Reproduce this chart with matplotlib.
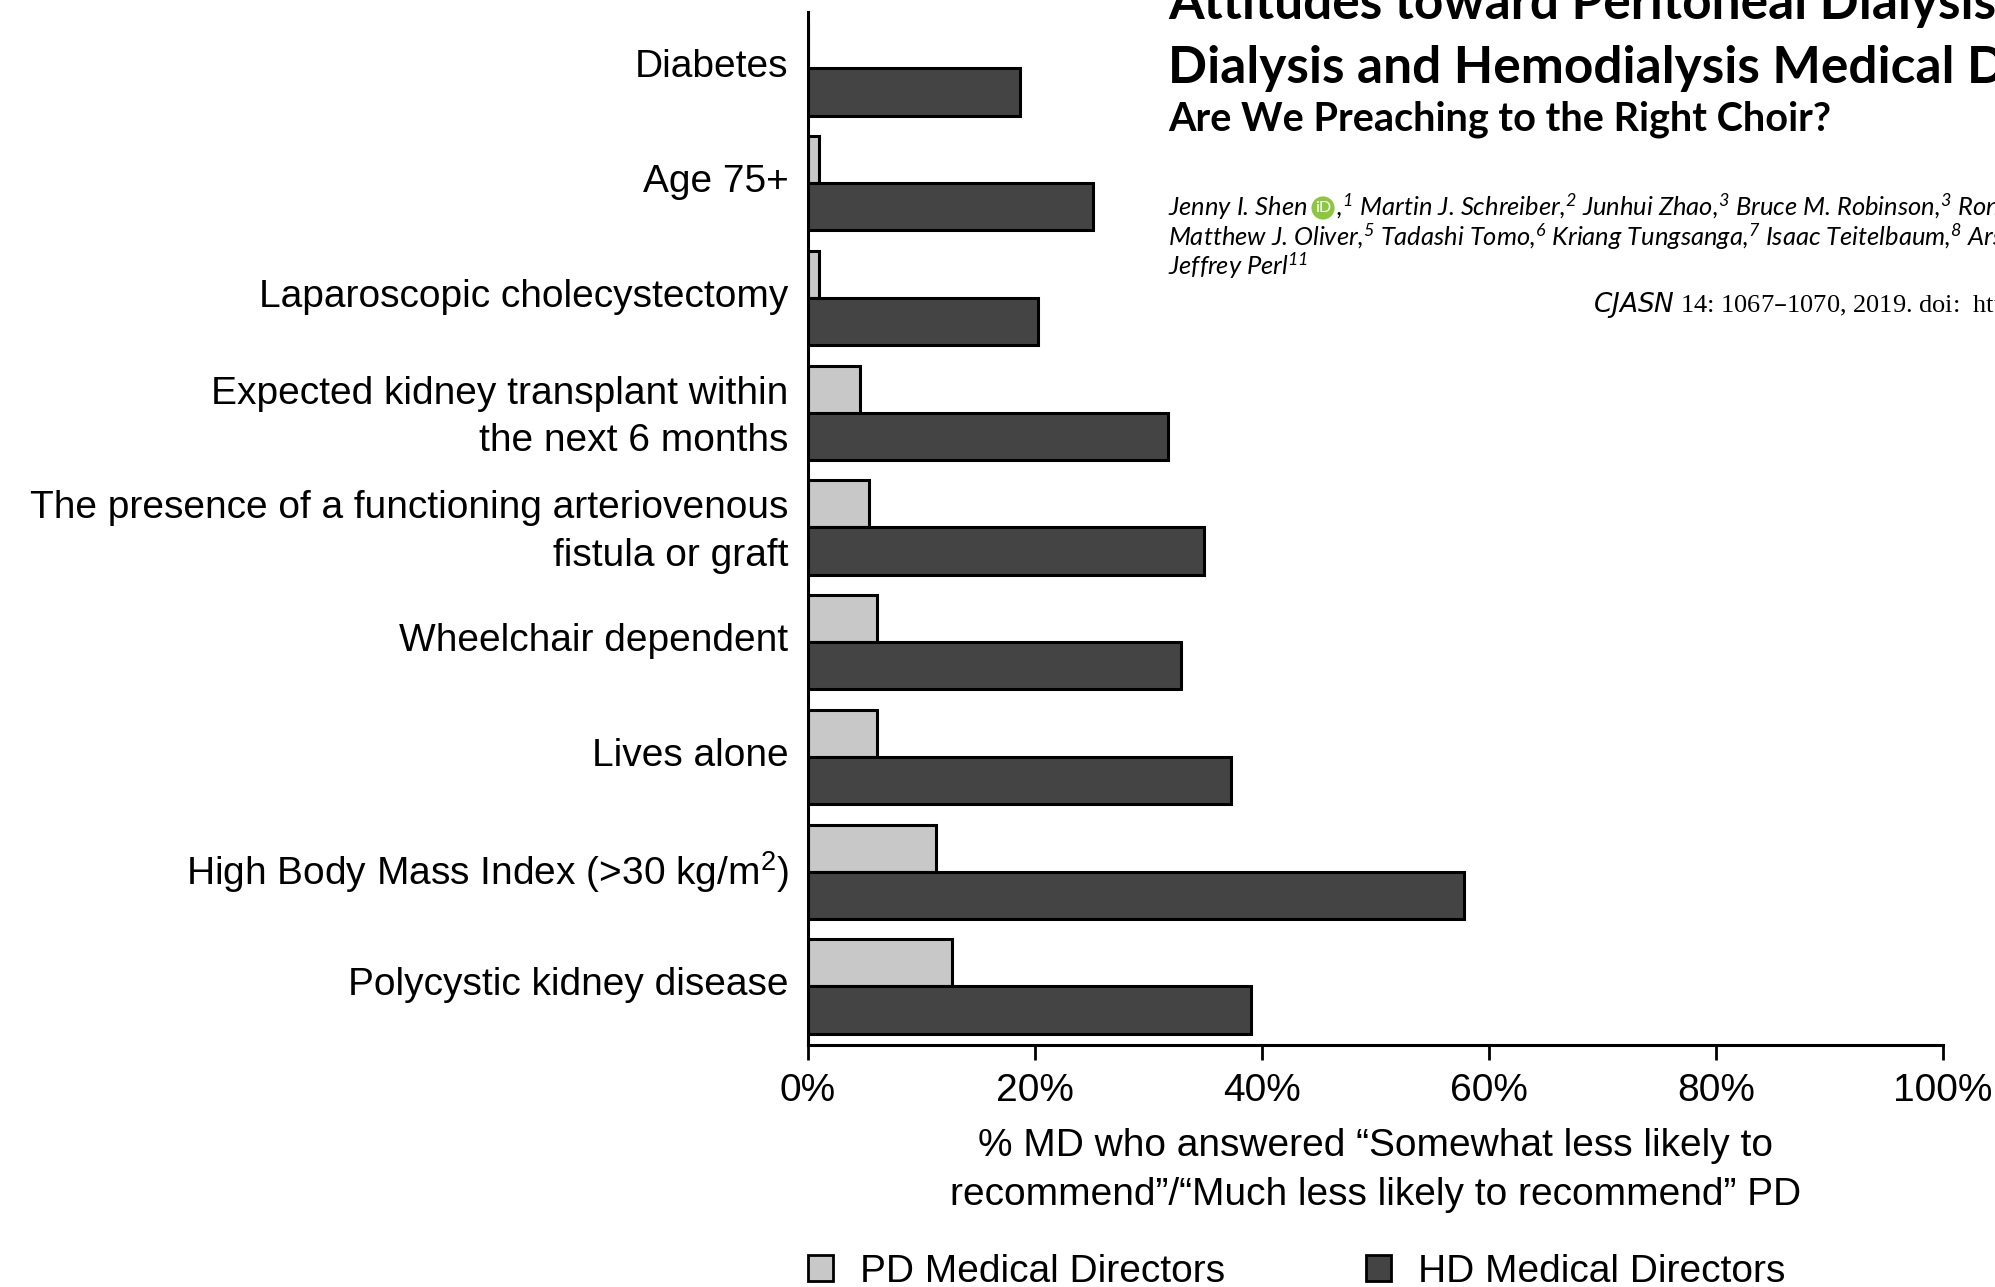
import numpy as np
import matplotlib
matplotlib.use("Agg")
import matplotlib.pyplot as plt
from matplotlib.patches import Patch

# Data, top to bottom
categories = [
    "Diabetes",
    "Age 75+",
    "Laparoscopic cholecystectomy",
    "Expected kidney transplant within\nthe next 6 months",
    "The presence of a functioning arteriovenous\nfistula or graft",
    "Wheelchair dependent",
    "Lives alone",
    "High Body Mass Index (>30 kg/m$\\mathregular{^{2}}$)",
    "Polycystic kidney disease",
]
pd_md = [0.0, 1.0, 1.0, 4.6, 5.4, 6.1, 6.1, 11.3, 12.7]
hd_md = [18.7, 25.1, 20.3, 31.7, 34.9, 32.9, 37.3, 57.8, 39.0]
xticks = [0, 20, 40, 60, 80, 100]

plt.rcParams['font.family'] = ['Liberation Sans', 'DejaVu Sans']
FS = 28

fig = plt.figure(figsize=(19.95, 12.87), dpi=100)
ax = fig.add_axes([808 / 1995, 1 - 1045 / 1287, (1943 - 808) / 1995, 1033 / 1287])

y = np.arange(len(categories))
h = 0.41
ax.barh(y - h / 2 - h, pd_md, height=h, align='edge', color='#c8c8c8', edgecolor='black', linewidth=2.2)
ax.barh(y - h / 2, hd_md, height=h, align='edge', color='#444444', edgecolor='black', linewidth=2.2)

ax.set_xlim(0, 100)
ax.set_ylim(8.305, -0.697)
ax.set_xticks(xticks)
ax.set_xticklabels([f"{t}%" for t in xticks], fontsize=FS)
ax.set_yticks(y - 0.25)
ax.set_yticklabels(categories, fontsize=FS, linespacing=1.42, ha='right')
ax.tick_params(axis='y', length=0, pad=14)
ax.tick_params(axis='x', length=11, width=2, pad=9)
for s in ['top', 'right']:
    ax.spines[s].set_visible(False)
for s in ['left', 'bottom']:
    ax.spines[s].set_linewidth(2.2)
ax.set_xlabel('% MD who answered \u201cSomewhat less likely to\n'
              'recommend\u201d/\u201cMuch less likely to recommend\u201d PD',
              fontsize=FS, linespacing=1.45, labelpad=14)

handles = [Patch(facecolor='#c8c8c8', edgecolor='black', linewidth=2),
           Patch(facecolor='#444444', edgecolor='black', linewidth=2)]
fig.legend(handles, ['PD Medical Directors', 'HD Medical Directors'],
           loc='center left', bbox_to_anchor=(808 / 1995, 1 - 1272 / 1287),
           ncol=2, frameon=False, fontsize=FS, borderpad=0, borderaxespad=0,
           handlelength=0.65, handleheight=0.65, handletextpad=0.7,
           columnspacing=3.6)

# paper header that overlaps the figure
hx = 1168 / 1995
fig.text(hx, 1 - 18 / 1287, 'Attitudes toward Peritoneal Dialysis among Peritoneal',
         fontsize=37, fontweight='bold', family='Lato', va='baseline')
fig.text(hx, 1 - 83 / 1287, 'Dialysis and Hemodialysis Medical Directors',
         fontsize=37, fontweight='bold', family='Lato', va='baseline')
fig.text(hx, 1 - 131 / 1287, 'Are We Preaching to the Right Choir?',
         fontsize=28.5, fontweight='bold', family='Lato', va='baseline')
authors = [
    'Jenny I. Shen     ,$\\mathregular{^{1}}$ Martin J. Schreiber,$\\mathregular{^{2}}$ Junhui Zhao,$\\mathregular{^{3}}$ '
    'Bruce M. Robinson,$\\mathregular{^{3}}$ Ronald L. Pisoni,$\\mathregular{^{3}}$',
    'Matthew J. Oliver,$\\mathregular{^{5}}$ Tadashi Tomo,$\\mathregular{^{6}}$ Kriang Tungsanga,$\\mathregular{^{7}}$ '
    'Isaac Teitelbaum,$\\mathregular{^{8}}$ Arshia Ghaffari,$\\mathregular{^{9}}$',
    'Jeffrey Perl$\\mathregular{^{11}}$',
]
for line, yy in zip(authors, [216, 246, 275]):
    fig.text(hx, 1 - yy / 1287, line, fontsize=18.4, style='italic', family='Lato', va='baseline')
fig.text(1323 / 1995, 1 - 208 / 1287, 'iD', fontsize=11.5, color='white', family='Lato',
         ha='center', va='center',
         bbox=dict(boxstyle='circle,pad=0.22', fc='#8dc63f', ec='none'))
fig.text(1593 / 1995, 1 - 312 / 1287,
         '$\\mathregular{\\it{CJASN}}$ 14: 1067\u20131070, 2019. doi:  https://doi.org/10.2215/CJN',
         fontsize=19, family='Liberation Serif', va='baseline')

fig.savefig('out.png', dpi=100)
